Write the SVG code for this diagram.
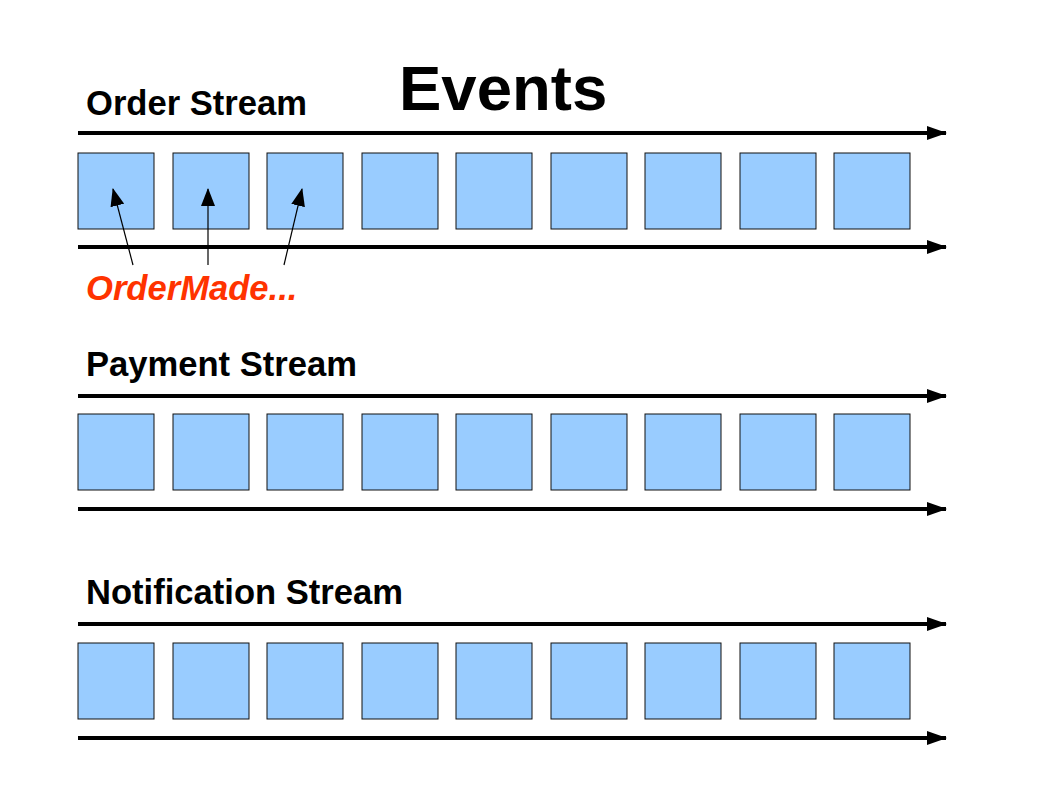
<svg xmlns="http://www.w3.org/2000/svg" width="1058" height="794" viewBox="0 0 1058 794">
<defs>
<style>
.box{fill:#99ccff;stroke:#111;stroke-width:1}
.rail{stroke:#000;stroke-width:4;fill:none}
.ptr{stroke:#000;stroke-width:1.2;fill:none}
.lbl{font-family:"Liberation Sans",Arial,sans-serif;font-weight:bold;font-size:34.6px;fill:#000}
.title{font-family:"Liberation Sans",Arial,sans-serif;font-weight:bold;font-size:63.5px;fill:#000}
.red{font-family:"Liberation Sans",Arial,sans-serif;font-weight:bold;font-style:italic;font-size:34.6px;fill:#ff3300}
</style>
<marker id="big" markerUnits="userSpaceOnUse" markerWidth="20" markerHeight="14" refX="19" refY="7" orient="auto"><path d="M0,0 L20,7 L0,14 Z" fill="#000"/></marker>
<marker id="small" markerUnits="userSpaceOnUse" markerWidth="18" markerHeight="14" refX="17" refY="7" orient="auto"><path d="M0,0 L18,7 L0,14 Z" fill="#000"/></marker>
<rect id="b" class="box" width="76" height="76"/>
</defs>
<rect width="1058" height="794" fill="#fff"/>
<text id="title" class="title" x="399" y="110">Events</text>
<g id="order-stream">
<text class="lbl" x="86" y="115">Order Stream</text>
<use href="#b" x="78" y="153"/><use href="#b" x="173" y="153"/><use href="#b" x="267" y="153"/><use href="#b" x="362" y="153"/><use href="#b" x="456" y="153"/><use href="#b" x="551" y="153"/><use href="#b" x="645" y="153"/><use href="#b" x="740" y="153"/><use href="#b" x="834" y="153"/>
</g>
<g id="payment-stream">
<text class="lbl" x="86" y="376">Payment Stream</text>
<use href="#b" x="78" y="414"/><use href="#b" x="173" y="414"/><use href="#b" x="267" y="414"/><use href="#b" x="362" y="414"/><use href="#b" x="456" y="414"/><use href="#b" x="551" y="414"/><use href="#b" x="645" y="414"/><use href="#b" x="740" y="414"/><use href="#b" x="834" y="414"/>
</g>
<g id="notification-stream">
<text class="lbl" x="86" y="604">Notification Stream</text>
<use href="#b" x="78" y="643"/><use href="#b" x="173" y="643"/><use href="#b" x="267" y="643"/><use href="#b" x="362" y="643"/><use href="#b" x="456" y="643"/><use href="#b" x="551" y="643"/><use href="#b" x="645" y="643"/><use href="#b" x="740" y="643"/><use href="#b" x="834" y="643"/>
</g>
<g id="ordermade-label">
<text class="red" x="86" y="300">OrderMade...</text>
</g>
<g id="connectors">
<line class="rail" x1="78" y1="133" x2="946" y2="133" marker-end="url(#big)"/>
<line class="rail" x1="78" y1="247" x2="946" y2="247" marker-end="url(#big)"/>
<line class="rail" x1="78" y1="396" x2="946" y2="396" marker-end="url(#big)"/>
<line class="rail" x1="78" y1="509" x2="946" y2="509" marker-end="url(#big)"/>
<line class="rail" x1="78" y1="624" x2="946" y2="624" marker-end="url(#big)"/>
<line class="rail" x1="78" y1="738" x2="946" y2="738" marker-end="url(#big)"/>
<line class="ptr" x1="133" y1="265" x2="113" y2="189" marker-end="url(#small)"/>
<line class="ptr" x1="208" y1="265" x2="208" y2="189" marker-end="url(#small)"/>
<line class="ptr" x1="284" y1="265" x2="302" y2="189" marker-end="url(#small)"/>
</g>
</svg>
